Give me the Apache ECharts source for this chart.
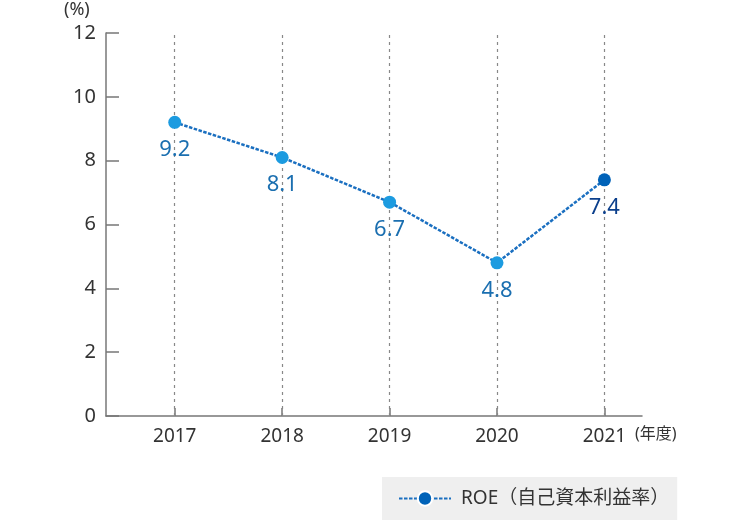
<!DOCTYPE html>
<html>
<head>
<meta charset="utf-8">
<script src="https://cdn.jsdelivr.net/npm/echarts@6/dist/echarts.min.js"></script>
<style>
  html, body { margin: 0; padding: 0; background: #fff; }
  #main { width: 740px; height: 531px; }
</style>
</head>
<body>
<div id="main"></div>
<script>
// 年度とROEの値
const years = [2017, 2018, 2019, 2020, 2021]
const roe = [9.2, 8.1, 6.7, 4.8, 7.4]
const yTicks = [0, 2, 4, 6, 8, 10, 12]
const seriesName = 'ROE（自己資本利益率）'

const FONT = '"Noto Sans", "Noto Sans CJK JP", sans-serif'
const lastIdx = roe.length - 1

const seriesData = roe.map((v, i) => {
  const item = { value: [years[i], v] }
  // 最新年度だけ濃い色
  if (i === lastIdx) {
    item.itemStyle = { color: '#0062b8' }
    item.label = { color: '#0b3f8c' }
  }
  return item
})

const myChart = echarts.init(document.getElementById('main'))
myChart.setOption({
  animation: false,
  textStyle: { fontFamily: FONT },
  grid: { left: 106, right: 98, top: 33, bottom: 115 },
  xAxis: {
    type: 'value',
    min: 2016.36,
    max: 2021.35,
    axisLine: { show: true, lineStyle: { color: '#777', width: 1.5 } },
    axisTick: { show: true, inside: true, length: 8, customValues: years, lineStyle: { color: '#777', width: 1.5 } },
    axisLabel: { customValues: years, color: '#333', fontSize: 19, margin: 11, formatter: v => String(v) },
    splitLine: { show: false }
  },
  yAxis: {
    type: 'value',
    min: yTicks[0],
    max: yTicks[yTicks.length - 1],
    interval: 2,
    axisLine: { show: true, lineStyle: { color: '#777', width: 1.5 } },
    axisTick: { show: true, inside: true, length: 13, lineStyle: { color: '#777', width: 1.5 } },
    axisLabel: { color: '#333', fontSize: 20, margin: 10 },
    splitLine: { show: false }
  },
  legend: {
    left: 382,
    top: 477,
    padding: [12, 8, 12, 16],
    backgroundColor: '#efefef',
    itemWidth: 52,
    itemHeight: 18,
    itemGap: 10,
    data: [{
      name: seriesName,
      itemStyle: { color: '#0062b8', borderColor: '#fff', borderWidth: 2 }
    }],
    textStyle: { color: '#333', fontSize: 19, fontFamily: FONT, padding: [0, 0, 0, 5] }
  },
  graphic: [
    { type: 'text', left: 64, top: 1, style: { text: '(%)', fontSize: 18, fill: '#333', fontFamily: FONT } },
    { type: 'text', left: 635, top: 426, style: { text: '(年度)', fontSize: 16, fill: '#333', fontFamily: FONT } }
  ],
  series: [{
    name: seriesName,
    type: 'line',
    data: seriesData,
    symbol: 'circle',
    symbolSize: 13,
    itemStyle: { color: '#1c9be0' },
    lineStyle: { color: '#1a6fc0', width: 2.5, type: [3.5, 1.5] },
    label: {
      show: true,
      position: 'bottom',
      distance: 10,
      fontSize: 22,
      color: '#1b6fb0',
      formatter: p => p.value[1].toFixed(1)
    },
    markLine: {
      silent: true,
      symbol: 'none',
      z: 1,
      label: { show: false },
      lineStyle: { color: '#888', width: 1.2, type: [3, 4] },
      data: years.map(y => ({ xAxis: y }))
    }
  }]
})
</script>
</body>
</html>
